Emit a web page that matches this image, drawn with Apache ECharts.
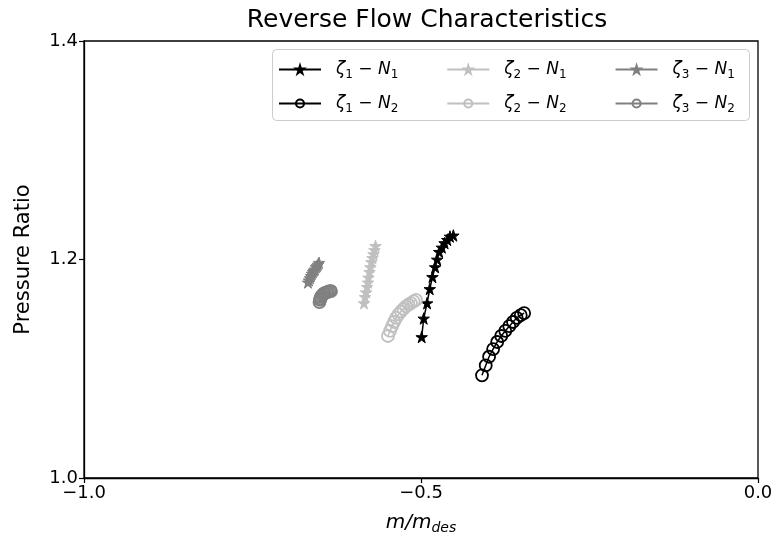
<!DOCTYPE html>
<html>
<head>
<meta charset="utf-8">
<script src="https://cdn.jsdelivr.net/npm/echarts@6/dist/echarts.min.js"></script>
<style>
html,body{margin:0;padding:0;background:#fff;}
#main{width:778px;height:542px;}
</style>
</head>
<body>
<div id="main"></div>
<script>
// ---- data ----
const xTicks = [-1.0, -0.5, 0.0];
const yTicks = [1.0, 1.2, 1.4];

const z1n1_x = [-0.499, -0.496, -0.491, -0.487, -0.483, -0.479, -0.476, -0.473, -0.469, -0.465, -0.461, -0.457, -0.452];
const z1n1_y = [1.129, 1.146, 1.160, 1.173, 1.184, 1.193, 1.200, 1.207, 1.211, 1.215, 1.218, 1.221, 1.222];

const z1n2_x = [-0.4095, -0.404, -0.399, -0.393, -0.387, -0.381, -0.375, -0.369, -0.3635, -0.358, -0.352, -0.347];
const z1n2_y = [1.094, 1.103, 1.111, 1.118, 1.1245, 1.130, 1.1346, 1.139, 1.1428, 1.1465, 1.149, 1.151];

const z2n1_x = [-0.5846, -0.583, -0.5816, -0.580, -0.5786, -0.578, -0.5764, -0.575, -0.5735, -0.572, -0.5705, -0.569, -0.5675];
const z2n1_y = [1.160, 1.1657, 1.170, 1.175, 1.179, 1.1835, 1.1886, 1.193, 1.1977, 1.2014, 1.205, 1.2087, 1.2124];

const z2n2_x = [-0.549, -0.546, -0.543, -0.540, -0.537, -0.5334, -0.5297, -0.526, -0.5223, -0.5185, -0.5148, -0.511, -0.5074];
const z2n2_y = [1.130, 1.1346, 1.139, 1.1428, 1.1465, 1.1497, 1.1524, 1.1547, 1.157, 1.1588, 1.160, 1.1616, 1.163];

const z3n1_x = [-0.6677, -0.6662, -0.6647, -0.6632, -0.6617, -0.6602, -0.6588, -0.6573, -0.6558, -0.6543, -0.6528, -0.6513];
const z3n1_y = [1.179, 1.181, 1.183, 1.185, 1.187, 1.1886, 1.190, 1.191, 1.193, 1.194, 1.1954, 1.197];

const z3n2_x = [-0.6506, -0.6499, -0.6491, -0.6484, -0.6469, -0.6454, -0.6439, -0.6424, -0.6402, -0.638, -0.6357, -0.6335];
const z3n2_y = [1.161, 1.163, 1.1643, 1.1657, 1.167, 1.168, 1.169, 1.1693, 1.170, 1.1703, 1.171, 1.171];

const seriesLabels = {
  z1n1: ['1', '1'], z1n2: ['1', '2'],
  z2n1: ['2', '1'], z2n2: ['2', '2'],
  z3n1: ['3', '1'], z3n2: ['3', '2']
};
// ---- end data ----

const FONT = 'DejaVu Sans';
const STAR = 'path://M50,0 L61.23,34.55 L97.55,34.55 L68.16,55.9 L79.39,90.45 L50,69.1 L20.61,90.45 L31.84,55.9 L2.45,34.55 L38.77,34.55 Z';
const colors = { z1: '#000000', z2: '#c0c0c0', z3: '#808080' };

function zip(xs, ys) { return xs.map((x, i) => [x, ys[i]]); }

function makeLine(name, xs, ys, color, star) {
  return {
    name: name,
    type: 'line',
    data: zip(xs, ys),
    showSymbol: true,
    symbol: star ? STAR : 'circle',
    symbolSize: star ? 11.5 : 12,
    lineStyle: { color: color, width: 1.5 },
    itemStyle: star
      ? { color: color, borderColor: color, borderWidth: 1 }
      : { color: 'rgba(255,255,255,0)', borderColor: color, borderWidth: 1.8 },
    emphasis: { disabled: true },
    animation: false,
    z: 3
  };
}

const series = [
  makeLine('z1n1', z1n1_x, z1n1_y, colors.z1, true),
  makeLine('z1n2', z1n2_x, z1n2_y, colors.z1, false),
  makeLine('z2n1', z2n1_x, z2n1_y, colors.z2, true),
  makeLine('z2n2', z2n2_x, z2n2_y, colors.z2, false),
  makeLine('z3n1', z3n1_x, z3n1_y, colors.z3, true),
  makeLine('z3n2', z3n2_x, z3n2_y, colors.z3, false)
];

function legendFormatter(name) {
  const l = seriesLabels[name];
  return '{i|ζ}{s|' + l[0] + '}{n| − }{i|N}{s|' + l[1] + '}';
}

const legendText = {
  fontFamily: FONT,
  fontSize: 17,
  color: '#000',
  padding: [0, 0, 0, 10],
  rich: {
    i: { fontFamily: FONT, fontStyle: 'italic', fontSize: 17, color: '#000' },
    n: { fontFamily: FONT, fontSize: 17, color: '#000' },
    s: { fontFamily: FONT, fontSize: 12, color: '#000', padding: [10, 0, 0, 0] }
  }
};

function makeLegend(top, names) {
  return {
    data: names,
    left: 278,
    top: top,
    padding: 0,
    orient: 'horizontal',
    itemWidth: 42,
    itemHeight: 10,
    itemGap: 48,
    selectedMode: false,
    formatter: legendFormatter,
    textStyle: legendText,
    z: 10
  };
}

const chart = echarts.init(document.getElementById('main'), null, { renderer: 'canvas' });

chart.setOption({
  animation: false,
  backgroundColor: '#fff',
  title: {
    text: 'Reverse Flow Characteristics',
    left: 422,
    textAlign: 'center',
    top: 3,
    textStyle: { fontFamily: FONT, fontSize: 25, fontWeight: 'normal', color: '#000' }
  },
  grid: {
    left: 84, right: 20, top: 41, bottom: 64,
    show: true, borderColor: '#000', borderWidth: 1.3, backgroundColor: 'transparent'
  },
  legend: [
    makeLegend(61, ['z1n1', 'z2n1', 'z3n1']),
    makeLegend(95, ['z1n2', 'z2n2', 'z3n2'])
  ],
  graphic: [{
    type: 'rect',
    left: 272, top: 49,
    shape: { width: 477, height: 71, r: 4 },
    style: { fill: 'rgba(255,255,255,0.8)', stroke: '#cccccc', lineWidth: 1 },
    z: 4
  }],
  xAxis: {
    type: 'value',
    min: xTicks[0], max: xTicks[xTicks.length - 1], interval: 0.5,
    name: '{i|m/m}{s|des}',
    nameLocation: 'middle',
    nameGap: 32,
    nameTextStyle: {
      fontFamily: FONT, fontSize: 20, color: '#000',
      rich: {
        i: { fontFamily: FONT, fontStyle: 'italic', fontSize: 20, color: '#000' },
        s: { fontFamily: FONT, fontStyle: 'italic', fontSize: 14, color: '#000', padding: [11, 0, 0, 0] }
      }
    },
    axisLine: { show: true, onZero: false, lineStyle: { color: '#000', width: 1.3 } },
    axisTick: { show: true, length: 5, lineStyle: { color: '#000', width: 1.2 } },
    axisLabel: {
      fontFamily: FONT, fontSize: 18, color: '#000', margin: 6,
      formatter: v => v.toFixed(1).replace('-', '\u2212')
    },
    splitLine: { show: false }
  },
  yAxis: {
    type: 'value',
    min: yTicks[0], max: yTicks[yTicks.length - 1], interval: 0.2,
    name: 'Pressure Ratio',
    nameLocation: 'middle',
    nameGap: 50,
    nameTextStyle: { fontFamily: FONT, fontSize: 21, color: '#000' },
    axisLine: { show: true, onZero: false, lineStyle: { color: '#000', width: 1.3 } },
    axisTick: { show: true, length: 5, lineStyle: { color: '#000', width: 1.2 } },
    axisLabel: {
      fontFamily: FONT, fontSize: 18, color: '#000', margin: 6,
      formatter: v => v.toFixed(1)
    },
    splitLine: { show: false }
  },
  series: series
});
</script>
</body>
</html>
